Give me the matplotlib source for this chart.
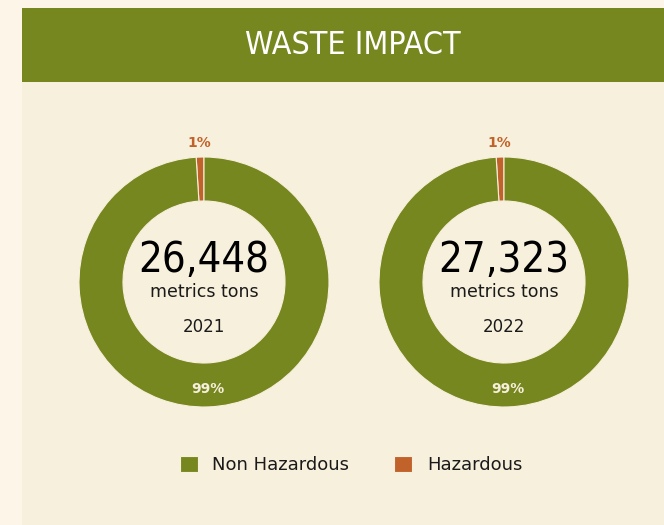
import numpy as np
import matplotlib.pyplot as plt
from matplotlib.patches import Rectangle

# data
years = ['2021', '2022']
totals = ['26,448', '27,323']
categories = ['Hazardous', 'Non Hazardous']
shares = [[1, 99], [1, 99]]

green = '#77871f'
orange = '#c0622a'
panel = '#f7f0dc'
outer = '#fef5e9'

W, H = 664, 525
fig = plt.figure(figsize=(W / 100, H / 100), dpi=100)
fig.patch.set_facecolor(outer)

# pixel box -> figure fraction
def px(x, y, w, h):
    return (x / W, 1 - (y + h) / H, w / W, h / H)

x0, y0, w0, h0 = px(22, 8, 642, 517)
fig.patches.append(Rectangle((x0, y0), w0, h0, transform=fig.transFigure,
                             facecolor=panel, edgecolor='none', zorder=-10))
x1, y1, w1, h1 = px(22, 8, 642, 74)
fig.patches.append(Rectangle((x1, y1), w1, h1, transform=fig.transFigure,
                             facecolor=green, edgecolor='none', zorder=-10))
fig.text(353 / W, 1 - 46 / H, 'WASTE IMPACT', color='white', fontsize=23,
         family='DejaVu Sans', stretch='condensed', ha='center', va='center')

centers = [204, 504]
R = 125
wedges_first = None
for i, cx in enumerate(centers):
    ax = fig.add_axes(px(cx - R, 282 - R, 2 * R, 2 * R))
    ax.set_facecolor('none')
    wedges, _ = ax.pie(shares[i], colors=[orange, green], startangle=90,
                       counterclock=True, radius=1,
                       wedgeprops=dict(width=0.352, edgecolor=panel, linewidth=0.8))
    if wedges_first is None:
        wedges_first = wedges
    ax.set_xlim(-1, 1)
    ax.set_ylim(-1, 1)
    ax.set_aspect('auto')
    ax.axis('off')
    # percent labels
    for w, v, r, col in zip(wedges, shares[i], [1.11, 0.86], [orange, '#f7f0dc']):
        ang = np.deg2rad((w.theta1 + w.theta2) / 2)
        ax.text(r * np.cos(ang), r * np.sin(ang), f'{v}%', color=col,
                fontsize=10, fontweight='bold', ha='center', va='center')
    ax.text(0, 0.18, totals[i], fontsize=30, color='black', ha='center', va='center',
            family='DejaVu Sans', stretch='condensed', weight='medium')
    ax.text(0, -0.08, 'metrics tons', fontsize=12.5, color='#1a1a1a', ha='center', va='center')
    ax.text(0, -0.36, years[i], fontsize=12, color='#1a1a1a', ha='center', va='center')

leg = fig.legend([wedges_first[1], wedges_first[0]], [categories[1], categories[0]],
                 loc='center', bbox_to_anchor=(351 / W, 1 - 465 / H), ncol=2,
                 frameon=False, fontsize=13, handlelength=1.0, handleheight=1.0,
                 handletextpad=0.8, columnspacing=2.5)
for t in leg.get_texts():
    t.set_color('#1a1a1a')

fig.savefig('out.png', dpi=100, facecolor=fig.get_facecolor())
